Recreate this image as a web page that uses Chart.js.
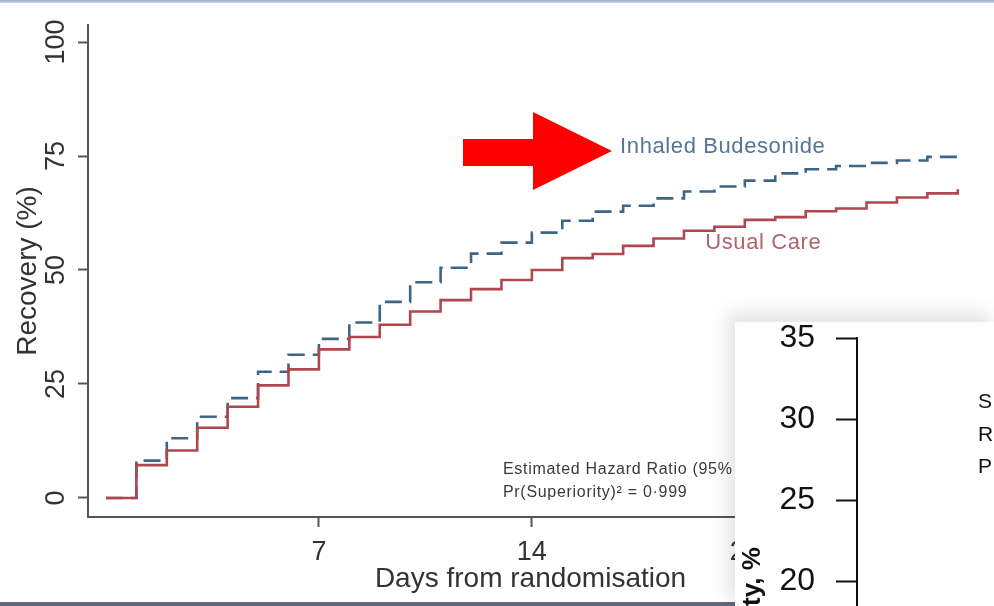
<!DOCTYPE html>
<html>
<head>
<meta charset="utf-8">
<script src="https://cdn.jsdelivr.net/npm/chart.js@4.4.1/dist/chart.umd.min.js"></script>
<style>
html,body{margin:0;padding:0;background:#fff;}
#wrap{position:relative;width:994px;height:606px;overflow:hidden;background:#fff;}
#main{position:absolute;left:0;top:0;z-index:0;}
#topband{position:absolute;left:0;top:0;width:994px;height:3px;background:linear-gradient(to bottom,#97aacd,#d4dcec);z-index:1;}
#botband{position:absolute;left:0;top:602px;width:994px;height:4px;background:#5f6979;z-index:1;}
#panel{position:absolute;left:735px;top:322px;width:259px;height:284px;background:#fff;box-shadow:-6px -8px 16px 2px rgba(0,0,0,0.10);z-index:2;}
#inset{position:absolute;left:0;top:0;}
</style>
</head>
<body>
<div id="wrap">
  <canvas id="main" width="994" height="606"></canvas>
  <div id="topband"></div>
  <div id="botband"></div>
  <div id="panel"><canvas id="inset" width="259" height="284"></canvas></div>
</div>
<script>
// ---------- data ----------
const days = [0,1,2,3,4,5,6,7,8,9,10,11,12,13,14,15,16,17,18,19,20,21,22,23,24,25,26,27,28];
const usualCare = [0,7.2,10.4,15.4,20.0,24.7,28.2,32.6,35.3,38.0,40.9,43.4,45.8,47.8,50.0,52.6,53.5,55.3,56.9,58.6,59.5,61.0,61.6,62.9,63.5,64.8,65.9,66.8,67.7];
const budesonide = [0,8.2,13.1,17.8,21.9,27.7,31.4,34.9,38.5,43.0,47.3,50.5,53.6,56.0,58.2,60.8,62.8,64.1,65.7,67.2,68.3,69.6,71.2,72.1,72.8,73.5,74.0,74.8,74.8];
const xTicks = [7,14,21,28];
const yTicks = [0,25,50,75,100];
const seriesNames = ['Usual Care','Inhaled Budesonide'];
const noteLines = ['Estimated Hazard Ratio (95%', 'Pr(Superiority)\u00B2 = 0\u00B7999'];
const insetTicks = [20,25,30,35];
const insetLetters = ['S','R','P'];
const insetTitle = 'ty, %';

Chart.defaults.font.family = '"Liberation Sans", Arial, Helvetica, sans-serif';

const toPts = vals => days.map((d,i)=>({x:d, y:vals[i]}));

const annot = {
  id:'annot',
  afterDatasetsDraw(chart){
    const {ctx, scales:{x,y}} = chart;
    ctx.save();
    // red arrow
    ctx.fillStyle = '#ff0000';
    ctx.beginPath();
    ctx.moveTo(463,139); ctx.lineTo(533,139); ctx.lineTo(533,112);
    ctx.lineTo(612,151); ctx.lineTo(533,190); ctx.lineTo(533,166);
    ctx.lineTo(463,166); ctx.closePath(); ctx.fill();
    // series labels
    ctx.textBaseline = 'middle'; ctx.textAlign = 'left';
    ctx.letterSpacing = '0.6px';
    ctx.font = '22px "Liberation Sans", Arial, sans-serif';
    ctx.fillStyle = '#52769a';
    ctx.fillText(seriesNames[1], x.getPixelForValue(16.9), y.getPixelForValue(77.0));
    ctx.fillStyle = '#b3636a';
    ctx.fillText(seriesNames[0], x.getPixelForValue(19.7), y.getPixelForValue(55.9));
    // note
    ctx.letterSpacing = '0.7px';
    ctx.font = '16px "Liberation Sans", Arial, sans-serif';
    ctx.fillStyle = '#3a3a3a';
    ctx.fillText(noteLines[0], x.getPixelForValue(13.05), y.getPixelForValue(6.2));
    ctx.fillText(noteLines[1], x.getPixelForValue(13.05), y.getPixelForValue(1.1));
    ctx.restore();
  }
};

new Chart(document.getElementById('main'), {
  type:'line',
  data:{
    datasets:[
      {label:seriesNames[0], data:toPts(usualCare), stepped:'before', borderColor:'#b0474f', borderWidth:2.6, pointRadius:0, fill:false},
      {label:seriesNames[1], data:toPts(budesonide), stepped:'before', borderColor:'#3d6588', borderWidth:2.6, borderDash:[17,8], pointRadius:0, fill:false}
    ]
  },
  options:{
    responsive:false, animation:false, events:[],
    layout:{padding:{top:25,right:21,bottom:0,left:0}},
    plugins:{legend:{display:false}, tooltip:{enabled:false}},
    scales:{
      x:{type:'linear', min:-0.59, max:28.5,
        afterBuildTicks:s=>{s.ticks = xTicks.map(v=>({value:v}));},
        afterFit:s=>{s.height = 89;},
        grid:{drawOnChartArea:false, drawTicks:true, tickLength:10, tickColor:'#555', tickWidth:2},
        border:{display:true, color:'#555', width:2},
        ticks:{font:{size:27}, color:'#333', padding:9, maxRotation:0, autoSkip:false},
        title:{display:true, text:'Days from randomisation', font:{size:28}, color:'#333', padding:{top:0,bottom:10}}
      },
      y:{type:'linear', min:-4.17, max:103.73,
        afterBuildTicks:s=>{s.ticks = yTicks.map(v=>({value:v}));},
        afterFit:s=>{s.width = 88;},
        grid:{drawOnChartArea:false, drawTicks:true, tickLength:10, tickColor:'#555', tickWidth:2},
        border:{display:true, color:'#555', width:2},
        ticks:{font:{size:27}, color:'#333', padding:-1, minRotation:90, maxRotation:90, crossAlign:'center', autoSkip:false},
        title:{display:true, text:'Recovery (%)', font:{size:28}, color:'#333', padding:{top:11,bottom:0}}
      }
    }
  },
  plugins:[annot]
});

const insetText = {
  id:'insetText',
  afterDraw(chart){
    const {ctx} = chart;
    ctx.save();
    ctx.font = '21px "Liberation Sans", Arial, sans-serif';
    ctx.fillStyle = '#111'; ctx.textBaseline = 'middle'; ctx.textAlign = 'left';
    const ys = [80,113,145];
    insetLetters.forEach((t,i)=>ctx.fillText(t, 243, ys[i]));
    ctx.restore();
  }
};

new Chart(document.getElementById('inset'), {
  type:'line',
  data:{datasets:[]},
  options:{
    responsive:false, animation:false, events:[],
    layout:{padding:{top:16,right:10,bottom:0,left:0}},
    plugins:{legend:{display:false}, tooltip:{enabled:false}},
    scales:{
      x:{type:'linear', display:false, min:0, max:1},
      y:{type:'linear', min:18.457, max:35,
        afterBuildTicks:s=>{s.ticks = insetTicks.map(v=>({value:v}));},
        afterFit:s=>{s.width = 122; s.paddingTop = 0; s.paddingBottom = 0;},
        grid:{drawOnChartArea:false, drawTicks:true, tickLength:21, tickColor:'#111', tickWidth:2},
        border:{display:true, color:'#111', width:2},
        ticks:{font:{size:32}, color:'#111', padding:21, autoSkip:false},
        title:{display:true, text:insetTitle, align:'start', font:{size:26, weight:'bold'}, color:'#111', padding:{top:2,bottom:0}}
      }
    }
  },
  plugins:[insetText]
});
</script>
</body>
</html>
